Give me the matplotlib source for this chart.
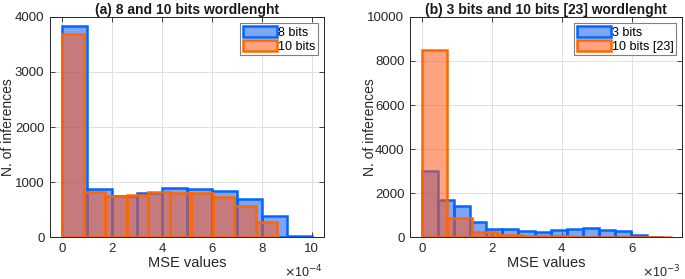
import numpy as np
import matplotlib
matplotlib.use("Agg")
import matplotlib.pyplot as plt
from matplotlib.ticker import FuncFormatter, MultipleLocator

plt.rcParams['font.family'] = ['Liberation Sans', 'DejaVu Sans']

# ---- data (a) ----
a_labels = ["8 bits", "10 bits"]
a_blue_edges = np.linspace(0, 10e-4, 11)
a_blue_counts = [3830, 880, 758, 812, 900, 878, 836, 697, 394, 18]
a_orange_edges = np.linspace(0, 8.63e-4, 11)
a_orange_counts = [3690, 830, 752, 770, 824, 806, 800, 733, 576, 285]

# ---- data (b) ----
b_labels = ["3 bits", "10 bits [23]"]
b_blue_edges = np.linspace(0, 6.91e-3, 16)
b_blue_counts = [3030, 1697, 1424, 712, 364, 379, 288, 258, 333, 379, 409, 348, 303, 106, 30]
b_orange_edges = np.linspace(0, 7.15e-3, 11)
b_orange_counts = [8485, 894, 242, 121, 60, 40, 30, 25, 20, 15]

titles = ["(a) 8 and 10 bits wordlenght", "(b) 3 bits and 10 bits [23] wordlenght"]

blue_face = (0.0, 0.3, 0.95, 0.5)
blue_edge = (0.0, 0.4, 1.0)
orange_face = (1.0, 0.35, 0.1, 0.55)
orange_edge = (1.0, 0.4, 0.0)

fig = plt.figure(figsize=(6.85, 2.79), dpi=100)
ax1 = fig.add_axes([0.073, 0.1495, 0.400, 0.790])
ax2 = fig.add_axes([0.5985, 0.1495, 0.3975, 0.790])

def draw(ax, be, bc, oe, oc, labels, title, scale, xlim, ylim, ystep, xstep, exp, ylx):
    ax.bar(be[:-1], bc, width=np.diff(be), align='edge', color=blue_face,
           edgecolor=blue_edge, linewidth=1.8, label=labels[0], zorder=2)
    ax.bar(oe[:-1], oc, width=np.diff(oe), align='edge', color=orange_face,
           edgecolor=orange_edge, linewidth=1.8, label=labels[1], zorder=3)
    ax.set_xlim(*xlim)
    ax.set_ylim(*ylim)
    ax.xaxis.set_major_locator(MultipleLocator(xstep * scale))
    ax.yaxis.set_major_locator(MultipleLocator(ystep))
    ax.xaxis.set_major_formatter(FuncFormatter(lambda v, p: f"{v/scale:.0f}"))
    ax.grid(True, color='#e0e0e0', linewidth=0.7, zorder=0)
    ax.set_axisbelow(True)
    ax.tick_params(direction='in', top=True, right=True, length=3.5, width=0.6,
                   labelsize=9.5, colors='#262626', labelcolor='#262626', pad=4)
    for s in ax.spines.values():
        s.set_linewidth(0.7)
        s.set_color('#262626')
    ax.set_title(title, fontsize=10, fontweight='bold', pad=2, color='#1a1a1a')
    ax.set_xlabel("MSE values", fontsize=10.5, color='#262626', labelpad=1)
    ax.set_ylabel("N. of inferences", fontsize=10, color='#262626')
    ax.yaxis.set_label_coords(ylx, 0.5)
    ax.text(0.995, -0.118, r"$\times$10$^{%d}$" % exp, transform=ax.transAxes,
            ha='right', va='top', fontsize=9, color='#262626')
    leg = ax.legend(loc='upper right', fontsize=9, frameon=True, fancybox=False,
                    edgecolor='#808080', framealpha=1, borderpad=0.2,
                    handlelength=2.7, handleheight=1.0, handletextpad=0.1,
                    labelspacing=0.1, borderaxespad=0.5)
    leg.get_frame().set_linewidth(0.8)

draw(ax1, a_blue_edges, a_blue_counts, a_orange_edges, a_orange_counts, a_labels,
     titles[0], 1e-4, (-0.5e-4, 10.5e-4), (0, 4000), 1000, 2, -4, -0.128)
draw(ax2, b_blue_edges, b_blue_counts, b_orange_edges, b_orange_counts, b_labels,
     titles[1], 1e-3, (-0.34e-3, 7.45e-3), (0, 10000), 2000, 2, -3, -0.122)

fig.savefig("out.png", dpi=100)
